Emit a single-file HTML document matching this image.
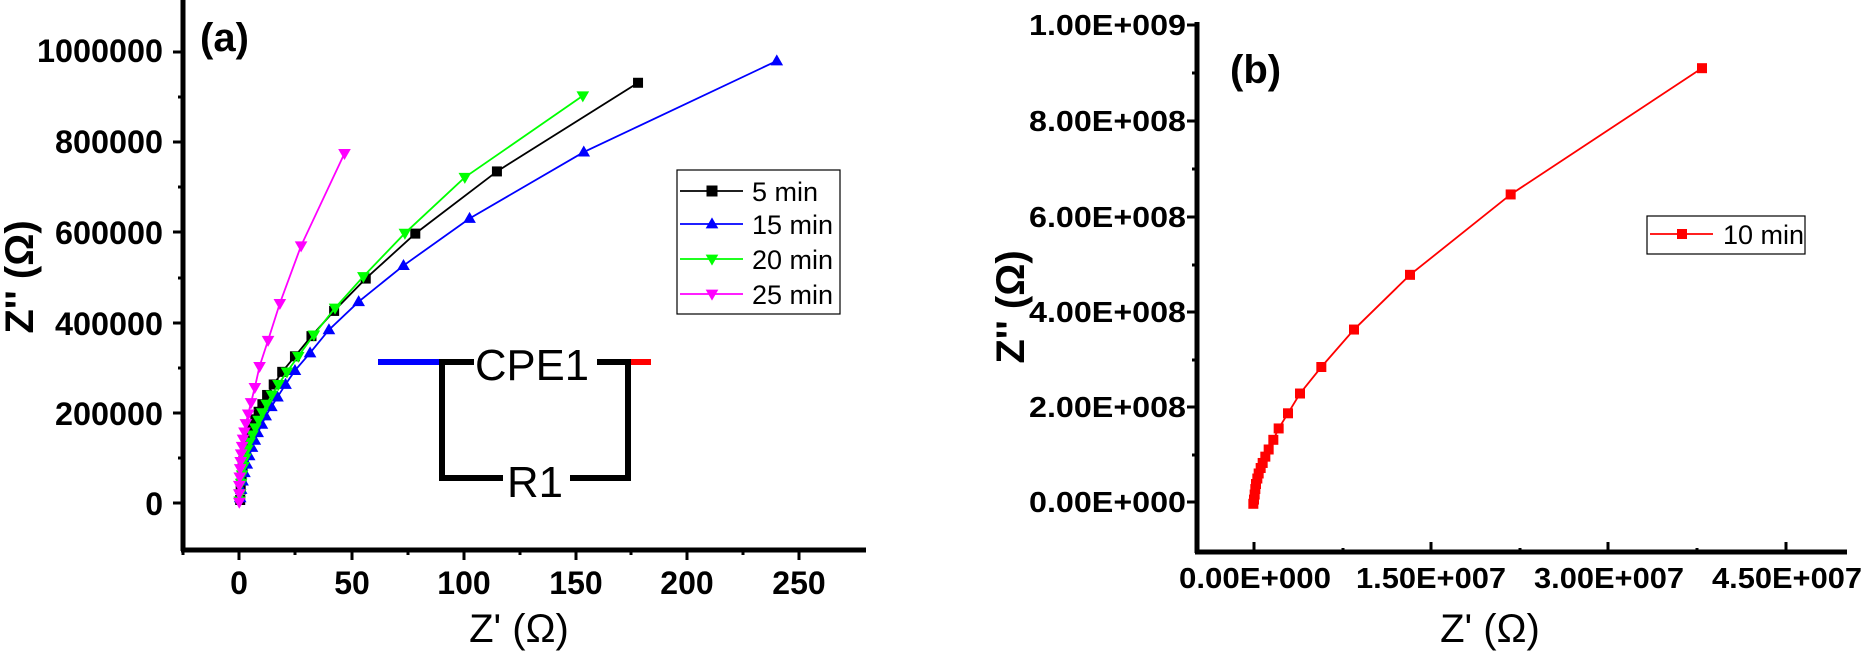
<!DOCTYPE html>
<html><head><meta charset="utf-8"><style>
html,body{margin:0;padding:0;background:#fff;}
svg{display:block;}
text{font-family:"Liberation Sans",Arial,sans-serif;}
</style></head><body>
<svg id="s" width="1865" height="660" xmlns="http://www.w3.org/2000/svg">
<rect width="1865" height="660" fill="#fff"/>
<!-- Panel a axes -->
<g stroke="#000" stroke-width="5" fill="none">
<line x1="183" y1="0" x2="183" y2="551"/>
<line x1="181" y1="550" x2="866" y2="550"/>
</g>
<g id="ticks" stroke="#000" stroke-width="3"></g>
<g font-weight="bold" font-size="32" text-anchor="end">
<text x="163" y="62" textLength="126" lengthAdjust="spacingAndGlyphs">1000000</text>
<text x="163" y="153" textLength="108" lengthAdjust="spacingAndGlyphs">800000</text>
<text x="163" y="244" textLength="108" lengthAdjust="spacingAndGlyphs">600000</text>
<text x="163" y="335" textLength="108" lengthAdjust="spacingAndGlyphs">400000</text>
<text x="163" y="425" textLength="108" lengthAdjust="spacingAndGlyphs">200000</text>
<text x="163" y="515">0</text>
</g>
<g font-weight="bold" font-size="32" text-anchor="middle">
<text x="239" y="594">0</text>
<text x="352" y="594">50</text>
<text x="464" y="594">100</text>
<text x="576" y="594">150</text>
<text x="687" y="594">200</text>
<text x="799" y="594">250</text>
</g>
<text x="519" y="642" font-size="40" text-anchor="middle">Z' (Ω)</text>
<text transform="translate(33,277) rotate(-90)" font-size="40" font-weight="bold" text-anchor="middle">Z'' (Ω)</text>
<text x="200" y="51" font-size="40" font-weight="bold">(a)</text>
<!-- circuit -->
<g stroke-width="6" fill="none">
<line x1="378" y1="362" x2="442" y2="362" stroke="#0000ff"/>
<polyline points="474,362 442,362 442,478 503,478" stroke="#000"/>
<polyline points="597,362 628,362 628,478 570,478" stroke="#000"/>
<line x1="631" y1="362" x2="651" y2="362" stroke="#ff0000"/>
</g>
<text x="475" y="380" font-size="44" textLength="114" lengthAdjust="spacingAndGlyphs">CPE1</text>
<text x="507" y="497" font-size="44" textLength="56" lengthAdjust="spacingAndGlyphs">R1</text>
<!-- legend a -->
<rect x="677" y="170" width="163" height="144" fill="#fff" stroke="#000" stroke-width="1.2"/>
<g font-size="27">
<text x="752" y="201">5 min</text>
<text x="752" y="234">15 min</text>
<text x="752" y="269">20 min</text>
<text x="752" y="304">25 min</text>
</g>
<!-- Panel b axes -->
<g stroke="#000" stroke-width="5" fill="none">
<line x1="1197" y1="22" x2="1197" y2="553"/>
<line x1="1195" y1="552" x2="1847" y2="552"/>
</g>
<g font-weight="bold" font-size="29" text-anchor="end">
<text x="1186" y="35" textLength="157" lengthAdjust="spacingAndGlyphs">1.00E+009</text>
<text x="1186" y="131" textLength="157" lengthAdjust="spacingAndGlyphs">8.00E+008</text>
<text x="1186" y="227" textLength="157" lengthAdjust="spacingAndGlyphs">6.00E+008</text>
<text x="1186" y="322" textLength="157" lengthAdjust="spacingAndGlyphs">4.00E+008</text>
<text x="1186" y="417" textLength="157" lengthAdjust="spacingAndGlyphs">2.00E+008</text>
<text x="1186" y="512" textLength="157" lengthAdjust="spacingAndGlyphs">0.00E+000</text>
</g>
<g font-weight="bold" font-size="29" text-anchor="middle">
<text x="1255" y="588" textLength="152" lengthAdjust="spacingAndGlyphs">0.00E+000</text>
<text x="1431" y="588" textLength="150" lengthAdjust="spacingAndGlyphs">1.50E+007</text>
<text x="1609" y="588" textLength="150" lengthAdjust="spacingAndGlyphs">3.00E+007</text>
<text x="1787" y="588" textLength="150" lengthAdjust="spacingAndGlyphs">4.50E+007</text>
</g>
<text x="1490" y="642" font-size="40" text-anchor="middle">Z' (Ω)</text>
<text transform="translate(1024,307) rotate(-90)" font-size="40" font-weight="bold" text-anchor="middle">Z'' (Ω)</text>
<text x="1230" y="83" font-size="40" font-weight="bold">(b)</text>
<rect x="1647" y="216" width="158" height="38" fill="#fff" stroke="#000" stroke-width="1.2"/>
<text x="1723" y="244" font-size="27">10 min</text>
<g id="series"></g>
</svg>
<script>
var NS="http://www.w3.org/2000/svg";
var S=document.getElementById('series'), T=document.getElementById('ticks');
function el(n,a,p){var e=document.createElementNS(NS,n);for(var k in a)e.setAttribute(k,a[k]);(p||S).appendChild(e);return e;}
function mark(t,x,y,c,r){
 if(t=='sq') el('rect',{x:x-r,y:y-r,width:2*r,height:2*r,fill:c});
 else if(t=='up') el('polygon',{points:(x)+','+(y-r*1.2)+' '+(x-r*1.15)+','+(y+r*0.8)+' '+(x+r*1.15)+','+(y+r*0.8),fill:c});
 else el('polygon',{points:(x)+','+(y+r*1.2)+' '+(x-r*1.15)+','+(y-r*0.8)+' '+(x+r*1.15)+','+(y-r*0.8),fill:c});
}
function series(pts,sx,sy,ox,c,t,r){
 var P=pts.map(function(p){return [p[0]/sx+ox,p[1]/sy];});
 el('polyline',{points:P.map(function(p){return p.join(',')}).join(' '),fill:'none',stroke:c,'stroke-width':1.8});
 P.forEach(function(p){mark(t,p[0],p[1],c,r);});
}
[52,142,232,323,413,503].forEach(function(y){el('line',{x1:173,y1:y,x2:183,y2:y},T);});
[97,187,278,368,458].forEach(function(y){el('line',{x1:178,y1:y,x2:183,y2:y},T);});
[239,352,464,576,687,799].forEach(function(x){el('line',{x1:x,y1:550,x2:x,y2:560},T);});
[183,295,408,520,631,743].forEach(function(x){el('line',{x1:x,y1:550,x2:x,y2:555},T);});
[25,121,217,312,407,502].forEach(function(y){el('line',{x1:1187,y1:y,x2:1197,y2:y},T);});
[73,169,265,360,455].forEach(function(y){el('line',{x1:1192,y1:y,x2:1197,y2:y},T);});
[1254,1431,1608,1786].forEach(function(x){el('line',{x1:x,y1:552,x2:x,y2:542},T);});
[1343,1520,1697].forEach(function(x){el('line',{x1:x,y1:552,x2:x,y2:548},T);});
var black=[[1352,197],[1053,408],[880,556],[775,663],[708,740],[660,800],[625,848],[598,885],[580,915],[566,940],[556,962],[548,980],[541,998],[535,1015],[530,1030],[526,1045],[522,1060],[519,1075],[516,1095],[514,1115],[512,1140],[510,1165],[509,1190]];
var blue=[[1646,145],[1237,362],[995,520],[855,632],[760,718],[697,785],[657,840],[625,882],[605,915],[588,945],[575,968],[563,990],[555,1010],[546,1030],[540,1048],[534,1065],[528,1085],[523,1105],[518,1125],[514,1145],[511,1165],[509,1185]];
var green=[[1235,228],[985,422],[858,555],[770,658],[710,733],[665,797],[632,848],[608,885],[590,915],[576,940],[565,962],[556,982],[548,1000],[541,1018],[535,1035],[529,1052],[524,1070],[520,1090],[516,1110],[513,1130],[511,1150],[509,1175],[508,1192]];
var mag=[[730,365],[638,585],[593,722],[568,810],[550,872],[540,922],[532,958],[526,985],[521,1008],[518,1028],[515,1045],[513,1062],[511,1080],[510,1098],[509,1115],[508,1135],[507,1155],[507,1175],[507,1195]];
series(black,2.119,2.38,0,'#000','sq',5);
series(blue,2.119,2.38,0,'#0000ff','up',5.5);
series(green,2.119,2.38,0,'#00ff00','dn',5.5);
series(mag,2.119,2.38,0,'#ff00ff','dn',5.5);
var red=[[1323,162],[1036,462],[885,653],[801,783],[752,872],[720,935],[702,982],[688,1018],[680,1045],[673,1068],[668,1085],[664,1100],[661,1112],[658,1125],[656,1137],[654,1150],[653,1162],[652,1175],[651,1187],[650,1197]];
series(red,1.5,2.376,820,'#ff0000','sq',5);
var L=[[191,'#000','sq'],[224,'#0000ff','up'],[259,'#00ff00','dn'],[294,'#ff00ff','dn']];
L.forEach(function(l){el('line',{x1:680,y1:l[0],x2:743,y2:l[0],stroke:l[1],'stroke-width':1.8});mark(l[2],712,l[0],l[1],5.5);});
el('line',{x1:1650,y1:234,x2:1713,y2:234,stroke:'#ff0000','stroke-width':1.8});mark('sq',1682,234,'#ff0000',5);
</script>
</body></html>
